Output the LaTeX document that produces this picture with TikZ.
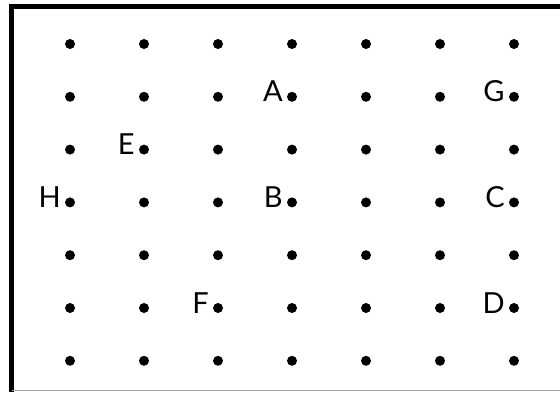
\documentclass[tikz,border=0pt]{standalone}
\usepackage{fontspec}
\setmainfont{Lato}
\usetikzlibrary{positioning}

\begin{document}
\begin{tikzpicture}[
      x=0.02cm, y=-0.02cm,
      dotpt/.style={circle, fill=black, inner sep=0pt, minimum size=0.2cm},
      lbl/.style={font=\fontsize{16.5}{18}\selectfont, inner sep=0pt, anchor=base east},
      frame/.style={line width=0.1cm, line join=miter},
    ]
    \useasboundingbox (0,0) rectangle (560,392);
    % Frame
    \draw[frame] (11.5,392) -- (11.5,6.5) -- (560,6.5);
    \draw[black!35, line width=0.02cm] (11.5,390.5) -- (560,390.5);

    % Dot grid
    \foreach \i in {1,...,7}
      \foreach \j in {1,...,7}
        \node[dotpt] (p\i\j) at ({70+74*(\i-1)}, {44+52.8*(\j-1)}) {};

    % Labels
    \node[lbl] (la) at ([xshift=-0.18cm, yshift=-0.1cm]p42.center) {A};
    \node[lbl] (lg) at ([xshift=-0.18cm, yshift=-0.1cm]p72.center) {G};
    \node[lbl] (le) at ([xshift=-0.18cm, yshift=-0.1cm]p23.center) {E};
    \node[lbl] (lh) at ([xshift=-0.18cm, yshift=-0.1cm]p14.center) {H};
    \node[lbl] (lb) at ([xshift=-0.18cm, yshift=-0.1cm]p44.center) {B};
    \node[lbl] (lc) at ([xshift=-0.18cm, yshift=-0.1cm]p74.center) {C};
    \node[lbl] (lf) at ([xshift=-0.18cm, yshift=-0.1cm]p36.center) {F};
    \node[lbl] (ld) at ([xshift=-0.18cm, yshift=-0.1cm]p76.center) {D};
  \end{tikzpicture}
\end{document}
